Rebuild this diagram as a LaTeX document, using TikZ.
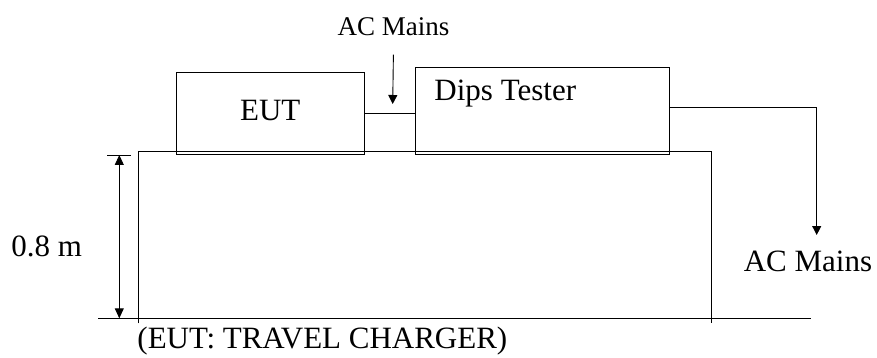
\documentclass[tikz,border=0pt]{standalone}
\usepackage{fontspec}
\setmainfont{Liberation Serif}
\usetikzlibrary{arrows.meta}

\def\tabL{138.3}
\def\tabR{711.7}
\def\tabT{151}
\def\flr{318.3}

\begin{document}
\begin{tikzpicture}[x=1pt, y=-1pt, line width=0.9pt,
    big/.style={font=\fontsize{31}{36}\selectfont, inner sep=0pt},
    small/.style={font=\fontsize{27}{32}\selectfont, inner sep=0pt},
    box/.style={draw, rectangle, inner sep=0pt},
    arr/.style={-{Triangle[width=9pt,length=9pt]}},
    dimarr/.style={{Triangle[width=9pt,length=10pt]}-{Triangle[width=9pt,length=10pt]}}]
    \useasboundingbox (0,0) rectangle (877,358);

    \node[box, minimum width=187.3pt, minimum height=82pt] (eut) at (270.3,113) {};
    \node[box, minimum width=253.5pt, minimum height=87pt] (dips) at (542.3,110.8) {};
    \node[big, anchor=base] (euttext) at (270.3,120.7) {EUT};
    \node[big, anchor=base west] (dipstext) at (434,101) {Dips Tester};
    \node[small, anchor=base] (acin) at (393.4,36) {AC Mains};
    \node[big, anchor=base] (acout) at (808,271) {AC Mains};
    \node[big, anchor=base west] (height) at (11,256) {0.8 m};
    \node[big, anchor=base west] (caption) at (137,348) {(EUT: TRAVEL CHARGER)};

    % table and floor
    \coordinate (tl) at (\tabL,\flr+5);
    \coordinate (tr) at (\tabR,\flr+5);
    \draw (tl) |- (\tabR,\tabT) -- (tr);
    \draw (98,\flr) -- (810.7,\flr);

    % cables
    \coordinate (acintip) at (392.7,104);
    \coordinate (acouttip) at (816.7,235);
    \draw (eut.east) -- (eut.east -| dips.west);
    \draw[arr] ([yshift=-18pt]acin.south) -- (acintip);
    \draw[arr] ([yshift=3.5pt]dips.east) -| (acouttip);

    % height
    \draw (107,155) -- (130.7,155);
    \draw[dimarr] (119.3,155) -- (119.3,\flr);
\end{tikzpicture}
\end{document}
